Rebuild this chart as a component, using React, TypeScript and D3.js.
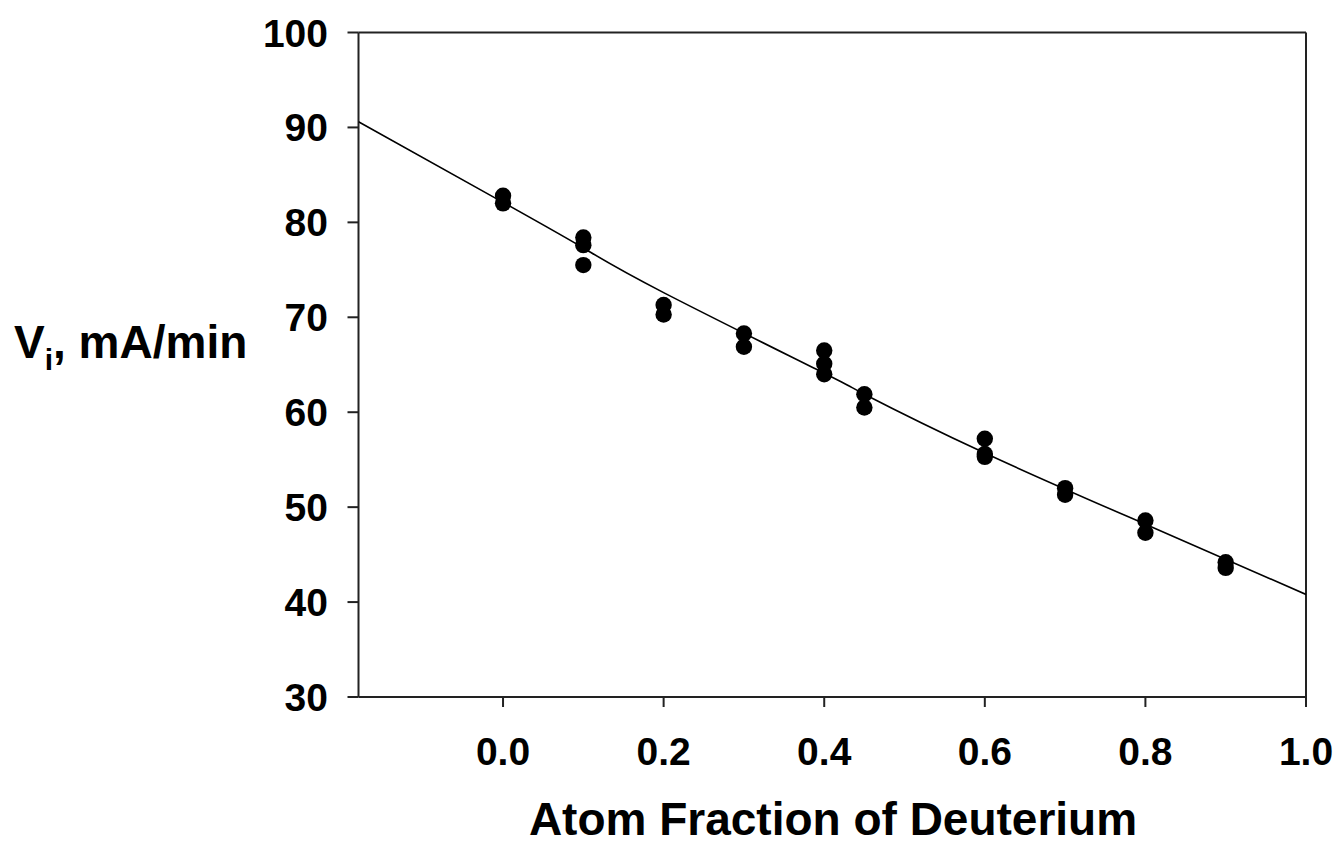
import React from "react";
import * as d3 from "d3";

const pointX = [0.0, 0.0, 0.1, 0.1, 0.1, 0.2, 0.2, 0.3, 0.3, 0.4, 0.4, 0.4, 0.45, 0.45, 0.6, 0.6, 0.6, 0.7, 0.7, 0.8, 0.8, 0.9, 0.9];
const pointY = [82.8, 82.0, 78.4, 77.6, 75.5, 71.3, 70.3, 68.3, 66.9, 66.5, 65.1, 64.0, 61.9, 60.5, 57.2, 55.6, 55.3, 52.0, 51.3, 48.6, 47.3, 44.2, 43.6];

const fitX = [-0.18, 0.0, 0.1, 0.2, 0.4, 0.45, 0.6, 0.8, 1.0];
const fitY = [90.6, 82.1, 77.3, 72.6, 64.1, 61.9, 55.7, 48.2, 40.8];

const xTicks = [0.0, 0.2, 0.4, 0.6, 0.8, 1.0];
const yTicks = [30, 40, 50, 60, 70, 80, 90, 100];

const xLabel = "Atom Fraction of Deuterium";

export default function App() {
  const W = 1339, H = 846;
  const left = 358.5, right = 1306, top = 32.5, bottom = 697;
  const x = d3.scaleLinear().domain([-0.18, 1.0]).range([left, right]);
  const y = d3.scaleLinear().domain([30, 100]).range([bottom, top]);
  const line = d3
    .line<number>()
    .x((_, i) => x(fitX[i]))
    .y((d) => y(d))
    .curve(d3.curveNatural);
  const font = "'Liberation Sans', Arial, Helvetica, sans-serif";
  const axisColor = "#222";
  return (
    <svg
      width={W}
      height={H}
      style={{ position: "fixed", left: 0, top: 0, background: "#fff" }}
      fontFamily={font}
    >
      <defs>
        <clipPath id="plot">
          <rect x={left} y={top} width={right - left} height={bottom - top} />
        </clipPath>
      </defs>
      <rect x={0} y={0} width={W} height={H} fill="#fff" />
      {/* frame */}
      <line x1={left} x2={right} y1={top} y2={top} stroke={axisColor} strokeWidth={2} />
      <line x1={right} x2={right} y1={top} y2={bottom} stroke={axisColor} strokeWidth={2} />
      <line x1={left} x2={right} y1={bottom} y2={bottom} stroke={axisColor} strokeWidth={2} />
      <line x1={left} x2={left} y1={top} y2={bottom} stroke={axisColor} strokeWidth={2} />
      {/* y ticks */}
      {yTicks.map((t) => (
        <g key={"y" + t}>
          <line x1={left - 11} x2={left} y1={y(t)} y2={y(t)} stroke={axisColor} strokeWidth={2} />
          <text
            x={328}
            y={y(t)}
            dy="0.36em"
            textAnchor="end"
            fontSize={39}
            fontWeight="bold"
            fill="#000"
          >
            {t}
          </text>
        </g>
      ))}
      {/* x ticks */}
      {xTicks.map((t) => (
        <g key={"x" + t}>
          <line x1={x(t)} x2={x(t)} y1={bottom} y2={bottom + 10} stroke={axisColor} strokeWidth={2} />
          <text
            x={x(t)}
            y={765}
            textAnchor="middle"
            fontSize={39}
            fontWeight="bold"
            fill="#000"
          >
            {t.toFixed(1)}
          </text>
        </g>
      ))}
      {/* fit line */}
      <path
        d={line(fitY) || ""}
        fill="none"
        stroke="#000"
        strokeWidth={1.6}
        clipPath="url(#plot)"
      />
      {/* points */}
      {pointY.map((v, i) => (
        <circle key={"p" + i} cx={x(pointX[i])} cy={y(v)} r={8.2} fill="#000" />
      ))}
      {/* axis titles */}
      <text
        x={833}
        y={835}
        textAnchor="middle"
        fontSize={46}
        fontWeight="bold"
        fill="#000"
      >
        {xLabel}
      </text>
      <text x={14} y={358} fontSize={46} fontWeight="bold" fill="#000">
        <tspan>V</tspan>
        <tspan fontSize={30} dy={12}>i</tspan>
        <tspan dy={-12}>, mA/min</tspan>
      </text>
    </svg>
  );
}
